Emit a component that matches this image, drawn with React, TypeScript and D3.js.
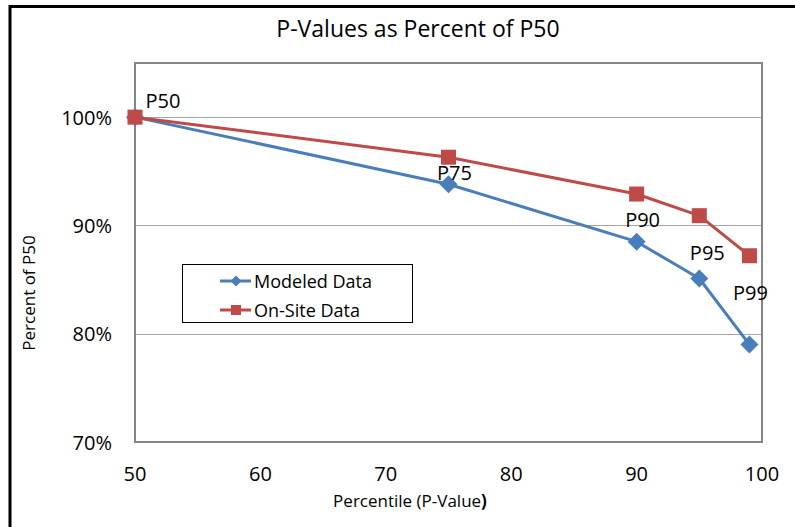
import React, { useEffect, useRef } from "react";
import * as d3 from "d3";

// percentiles on the x axis and the labels Excel put on each point
const percentiles = [50, 75, 90, 95, 99];
const pointLabels = ["P50", "P75", "P90", "P95", "P99"];

// percent of P50
const modeledData = [100, 93.8, 88.5, 85.1, 79.0];
const onSiteData = [100, 96.3, 92.9, 90.9, 87.2];

const xTicks = [50, 60, 70, 80, 90, 100];
const yTicks = [70, 80, 90, 100];

const FONT = "'Open Sans', 'Noto Sans', sans-serif";
const BLUE = "#4A7EBB";
const RED = "#BE4B48";

// label nudges (px) from the modeled point, hand placed like the original
const labelNudge = [
  [28, -17],
  [6, -12],
  [6, -22],
  [8, -26],
  [1, -52],
];

const App = () => {
  const svgRef = useRef(null);

  useEffect(() => {
    if (!svgRef.current) return;
    const svg = d3.select(svgRef.current);
    svg.selectAll("*").remove();

    const plot = { left: 135, top: 63, right: 762, bottom: 442 };
    const x = d3.scaleLinear().domain([50, 100]).range([plot.left, plot.right]);
    const y = d3.scaleLinear().domain([70, 105]).range([plot.bottom, plot.top]);

    // outer chart frame (cropped on right / bottom)
    svg
      .append("rect")
      .attr("x", 10)
      .attr("y", 6.5)
      .attr("width", 800)
      .attr("height", 540)
      .attr("fill", "white")
      .attr("stroke", "black")
      .attr("stroke-width", 3);

    // title
    svg
      .append("text")
      .attr("x", 418)
      .attr("y", 28)
      .attr("text-anchor", "middle")
      .attr("dominant-baseline", "central")
      .style("font-family", FONT)
      .style("font-size", "23px")
      .style("fill", "#000")
      .text("P-Values as Percent of P50");

    // gridlines
    svg
      .append("g")
      .selectAll("line")
      .data(yTicks.filter((t) => t > 70))
      .join("line")
      .attr("x1", plot.left)
      .attr("x2", plot.right)
      .attr("y1", (d) => Math.round(y(d)) + 0.5)
      .attr("y2", (d) => Math.round(y(d)) + 0.5)
      .attr("stroke", "#A6A6A6")
      .attr("stroke-width", 1.2);

    // plot area border
    svg
      .append("rect")
      .attr("x", plot.left)
      .attr("y", plot.top)
      .attr("width", plot.right - plot.left)
      .attr("height", plot.bottom - plot.top)
      .attr("fill", "none")
      .attr("stroke", "#868686")
      .attr("stroke-width", 2);

    // y tick labels
    svg
      .append("g")
      .selectAll("text")
      .data(yTicks)
      .join("text")
      .attr("x", 112)
      .attr("y", (d) => y(d))
      .attr("text-anchor", "end")
      .attr("dominant-baseline", "central")
      .style("font-family", FONT)
      .style("font-size", "20px")
      .text((d) => `${d}%`);

    // x tick labels
    svg
      .append("g")
      .selectAll("text")
      .data(xTicks)
      .join("text")
      .attr("x", (d) => x(d))
      .attr("y", 473)
      .attr("text-anchor", "middle")
      .attr("dominant-baseline", "central")
      .style("font-family", FONT)
      .style("font-size", "20px")
      .text((d) => d);

    // axis titles
    const xTitle = svg
      .append("text")
      .attr("x", 410)
      .attr("y", 500)
      .attr("text-anchor", "middle")
      .attr("dominant-baseline", "central")
      .style("font-family", FONT)
      .style("font-size", "17px");
    xTitle.append("tspan").text("Percentile (P-Value");
    xTitle.append("tspan").style("font-weight", "bold").text(")");

    svg
      .append("text")
      .attr("transform", "translate(28,293) rotate(-90)")
      .attr("text-anchor", "middle")
      .attr("dominant-baseline", "central")
      .style("font-family", FONT)
      .style("font-size", "17px")
      .text("Percent of P50");

    const line = d3
      .line<number>()
      .x((_, i) => x(percentiles[i]))
      .y((d) => y(d));

    const diamond = (s: number) => `M0,${-s}L${s},0L0,${s}L${-s},0Z`;

    // modeled series
    svg
      .append("path")
      .attr("d", line(modeledData))
      .attr("fill", "none")
      .attr("stroke", BLUE)
      .attr("stroke-width", 3)
      .attr("stroke-linejoin", "round");
    svg
      .append("g")
      .selectAll("path")
      .data(modeledData)
      .join("path")
      .attr("transform", (d, i) => `translate(${x(percentiles[i])},${y(d)})`)
      .attr("d", diamond(9))
      .attr("fill", BLUE);

    // on-site series
    svg
      .append("path")
      .attr("d", line(onSiteData))
      .attr("fill", "none")
      .attr("stroke", RED)
      .attr("stroke-width", 3)
      .attr("stroke-linejoin", "round");
    svg
      .append("g")
      .selectAll("rect")
      .data(onSiteData)
      .join("rect")
      .attr("x", (d, i) => x(percentiles[i]) - 7.5)
      .attr("y", (d) => y(d) - 7.5)
      .attr("width", 15)
      .attr("height", 15)
      .attr("fill", RED);

    // point labels
    svg
      .append("g")
      .selectAll("text")
      .data(modeledData)
      .join("text")
      .attr("x", (d, i) => x(percentiles[i]) + labelNudge[i][0])
      .attr("y", (d, i) => y(d) + labelNudge[i][1])
      .attr("text-anchor", "middle")
      .attr("dominant-baseline", "central")
      .style("font-family", FONT)
      .style("font-size", "20px")
      .text((d, i) => pointLabels[i]);

    // legend
    const legend = svg.append("g");
    legend
      .append("rect")
      .attr("x", 182.5)
      .attr("y", 264.5)
      .attr("width", 230)
      .attr("height", 58)
      .attr("fill", "white")
      .attr("stroke", "black")
      .attr("stroke-width", 1);

    const items = [
      { name: "Modeled Data", color: BLUE, shape: "diamond" },
      { name: "On-Site Data", color: RED, shape: "square" },
    ];
    items.forEach((item, i) => {
      const cy = 281 + i * 29;
      legend
        .append("line")
        .attr("x1", 220)
        .attr("x2", 251)
        .attr("y1", cy)
        .attr("y2", cy)
        .attr("stroke", item.color)
        .attr("stroke-width", 3);
      if (item.shape === "diamond") {
        legend
          .append("path")
          .attr("transform", `translate(236,${cy})`)
          .attr("d", diamond(5.5))
          .attr("fill", item.color);
      } else {
        legend
          .append("rect")
          .attr("x", 231)
          .attr("y", cy - 5)
          .attr("width", 10)
          .attr("height", 10)
          .attr("fill", item.color);
      }
      legend
        .append("text")
        .attr("x", 254)
        .attr("y", cy)
        .attr("dominant-baseline", "central")
        .style("font-family", FONT)
        .style("font-size", "18px")
        .text(item.name);
    });
  }, []);

  return (
    <svg
      ref={svgRef}
      width={795}
      height={527}
      style={{ position: "absolute", left: 0, top: 0, background: "white" }}
    ></svg>
  );
};

export default App;
